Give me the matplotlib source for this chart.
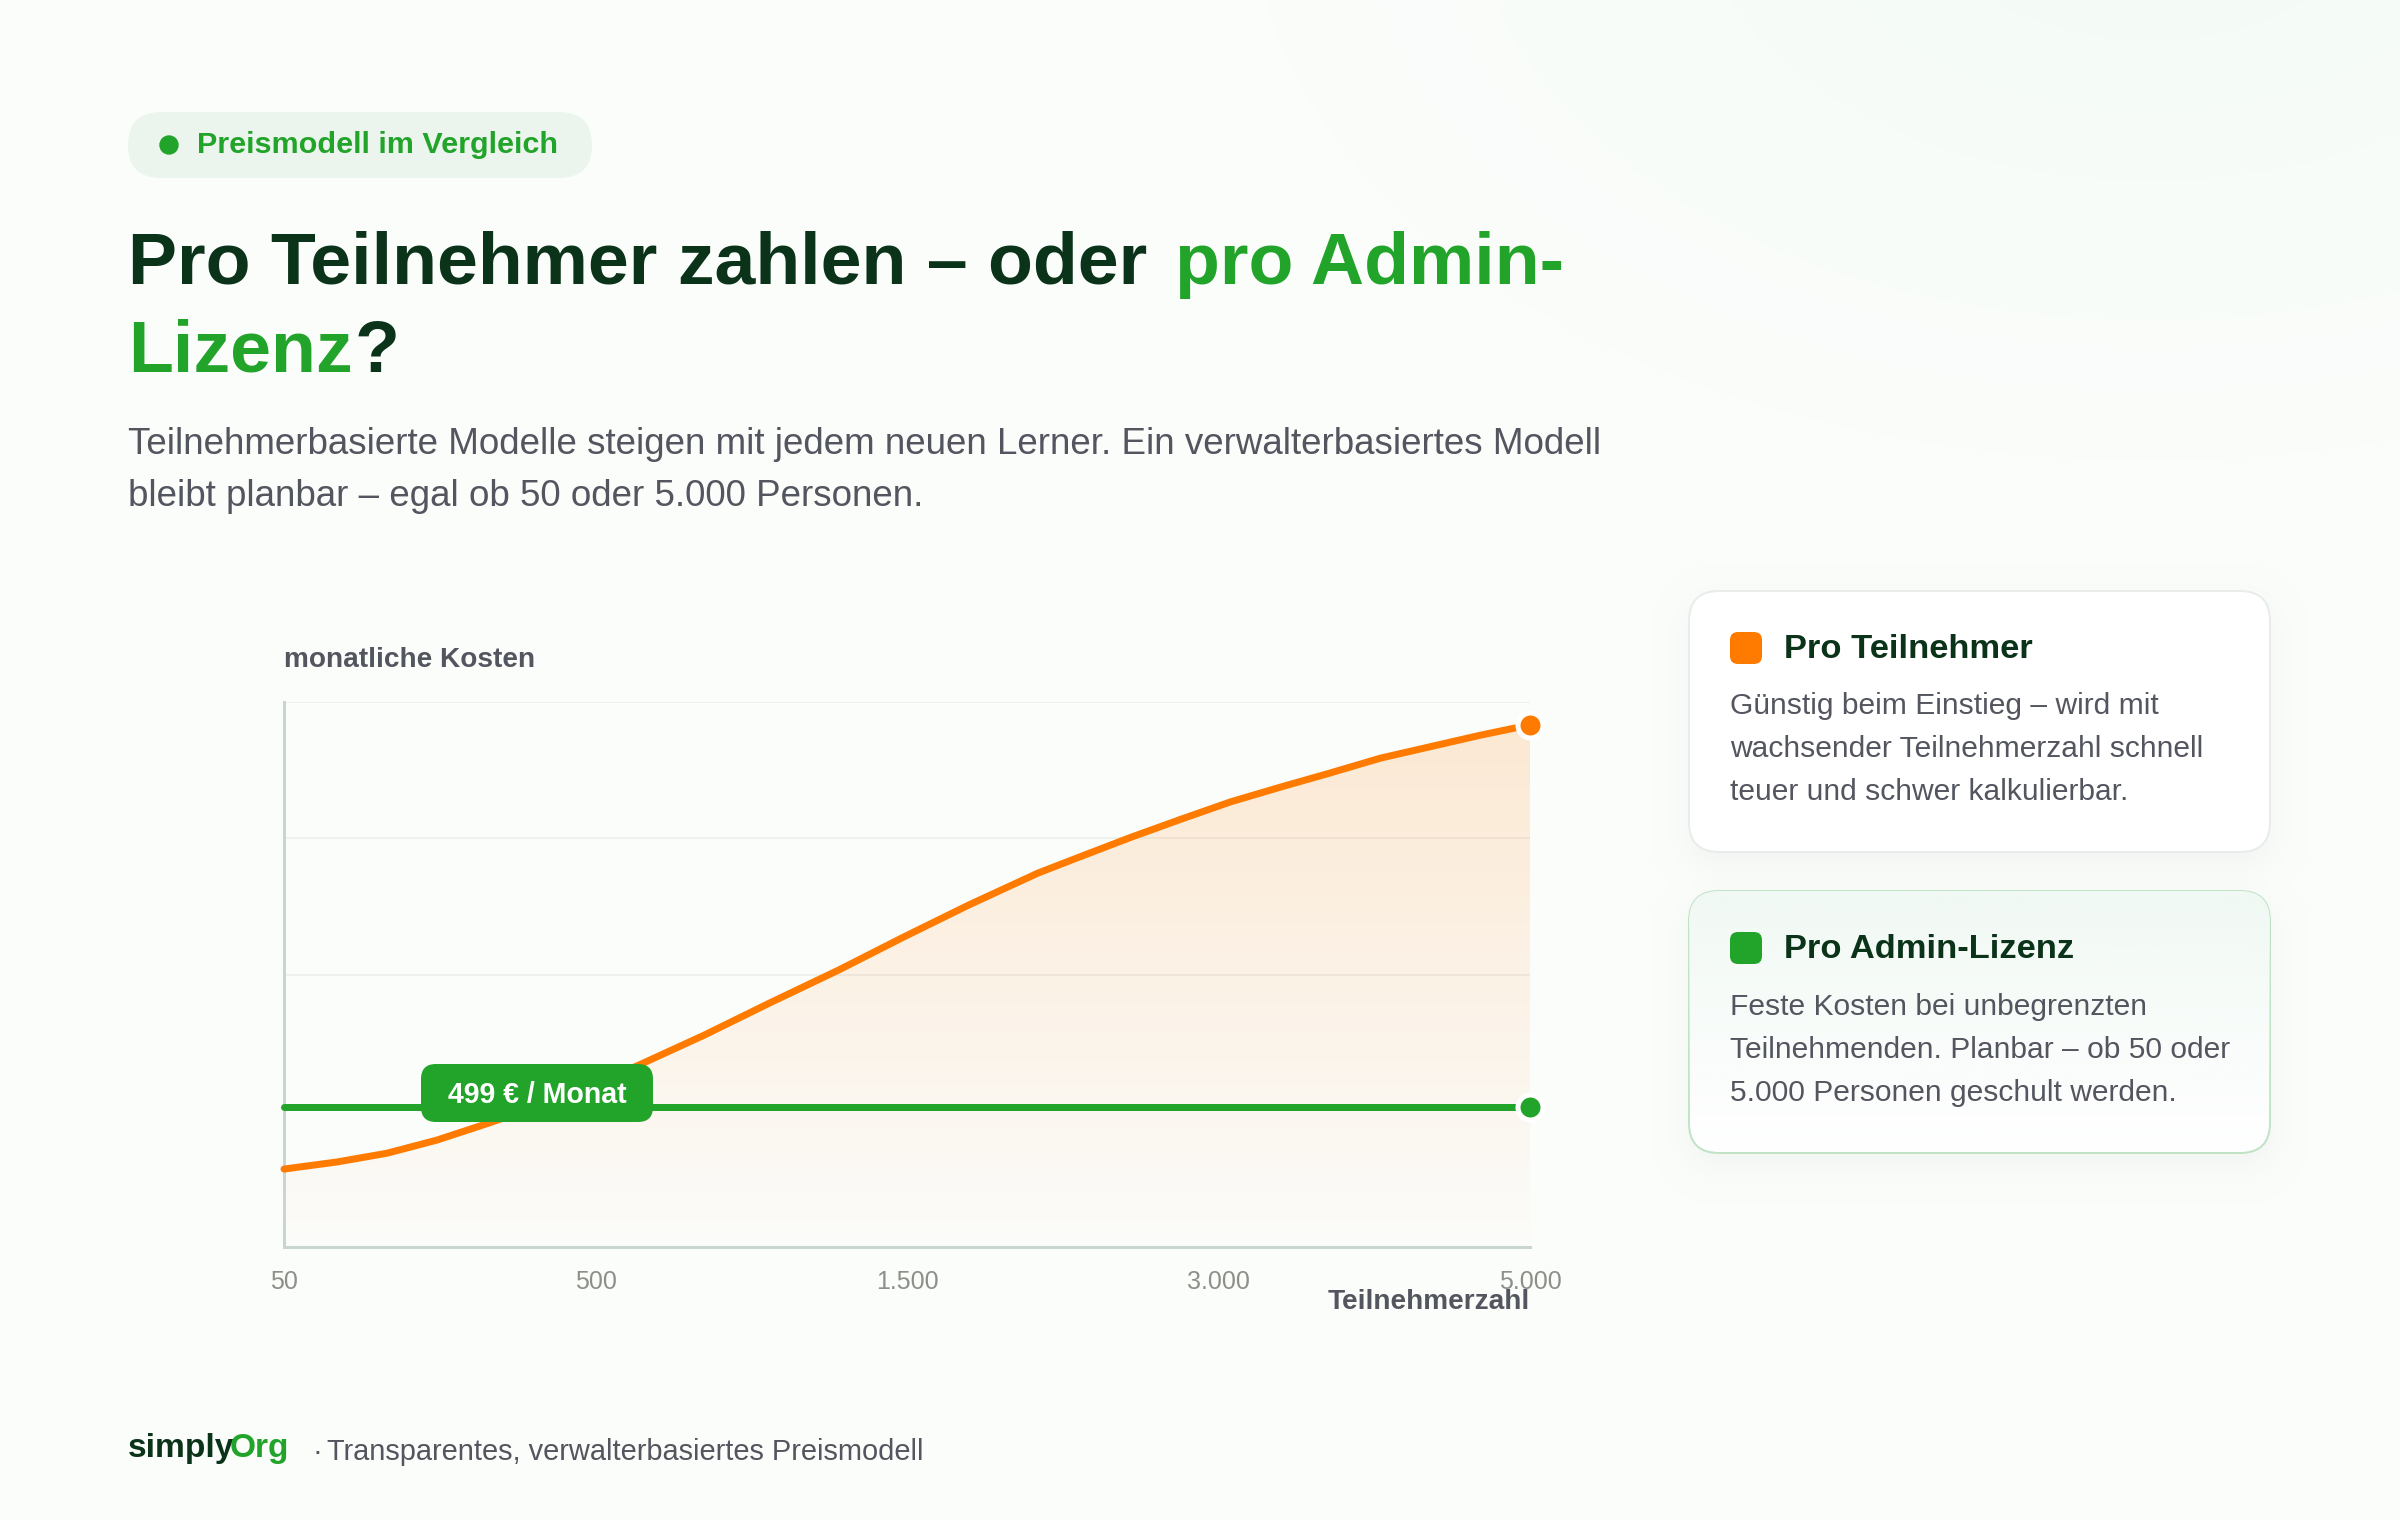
import numpy as np
import matplotlib
matplotlib.use('Agg')
import matplotlib.pyplot as plt
from matplotlib.patches import FancyBboxPatch, Polygon, Circle

plt.rcParams['font.family'] = ['Liberation Sans', 'DejaVu Sans']

# data, x is the position on the evenly spaced participant axis
tick_pos = [0, 1, 2, 3, 4]
tick_labels = ['50', '500', '1.500', '3.000', '5.000']
orange_x = [0.00, 0.17, 0.33, 0.49, 0.65, 0.89, 1.14, 1.35, 1.56, 1.78, 1.99,
            2.20, 2.42, 2.56, 2.72, 2.88, 3.04, 3.20, 3.36, 3.52, 3.68, 3.84, 4.00]
orange_y = [14.3, 15.6, 17.2, 19.6, 22.6, 27.3, 33.4, 38.9, 44.8, 50.8, 56.9,
            62.8, 68.6, 71.7, 75.2, 78.5, 81.7, 84.4, 87.0, 89.7, 91.8, 93.9, 95.8]
green_x = [0, 4]
green_y = [25.7, 25.7]
grid_y = [50, 75, 100]

W, H = 2400, 1520
DARK = '#0b3319'
GREEN = '#22a32a'
ORANGE = '#ff7b00'
GREY = '#53555f'


def pt(px):
    return px * 0.72


def box_dist(xx, yy, x0, y0, x1, y1, r):
    # signed distance to a rounded box
    qx = np.abs(xx - (x0 + x1) / 2) - (x1 - x0) / 2 + r
    qy = np.abs(yy - (y0 + y1) / 2) - (y1 - y0) / 2 + r
    return np.hypot(np.maximum(qx, 0), np.maximum(qy, 0)) + np.minimum(np.maximum(qx, qy), 0) - r


fig = plt.figure(figsize=(W / 100, H / 100), dpi=100)

# page background with the pale green glow and the card shadows
yy, xx = np.mgrid[0:H, 0:W]
bg = np.ones((H, W, 3)) * np.array([251, 253, 251]) / 255
glow = np.clip(1 - np.hypot((xx - 2150) / 900, (yy + 100) / 560), 0, 1)
bg = bg + glow[..., None] * (np.array([243, 251, 246]) / 255 - bg)
for top, bottom in [(591, 852), (891, 1153)]:
    d = box_dist(xx, yy, 1689, top + 12, 2270, bottom + 12, 30)
    shadow = 0.045 * np.clip(1 - (d + 20) / 60, 0, 1) ** 2
    bg = bg * (1 - shadow[..., None]) + shadow[..., None] * np.array([11, 51, 25]) / 255
ax_bg = fig.add_axes([0, 0, 1, 1], zorder=0)
ax_bg.imshow(bg, aspect='auto', extent=[0, W, H, 0])
ax_bg.axis('off')

# chart
ax = fig.add_axes([284 / W, (H - 1247) / H, 1246 / W, 545 / H], zorder=1)
ax.patch.set_visible(False)
grad = np.zeros((256, 2, 4))
grad[..., :3] = np.array([255, 123, 0]) / 255
grad[..., 3] = np.linspace(0.16, 0.008, 256)[:, None]
im = ax.imshow(grad, aspect='auto', extent=[0, 4, 0, max(orange_y)], zorder=2)
area = Polygon(list(zip(orange_x, orange_y)) + [(4, 0), (0, 0)], closed=True,
               transform=ax.transData, facecolor='none', edgecolor='none')
ax.add_patch(area)
im.set_clip_path(area)
for g in grid_y:
    ax.axhline(g, color='#edf2ee', linewidth=pt(2), zorder=1)
ax.plot(orange_x, orange_y, color=ORANGE, linewidth=pt(7), solid_capstyle='round',
        clip_on=False, zorder=4)
ax.plot(green_x, green_y, color=GREEN, linewidth=pt(7), solid_capstyle='round',
        clip_on=False, zorder=5)
ax.plot(orange_x[-1], orange_y[-1], 'o', color=ORANGE, markersize=pt(25), markeredgecolor='white',
        markeredgewidth=pt(5), clip_on=False, zorder=6)
ax.plot(green_x[-1], green_y[-1], 'o', color=GREEN, markersize=pt(25), markeredgecolor='white',
        markeredgewidth=pt(5), clip_on=False, zorder=6)
ax.set_xlim(0, 4)
ax.set_ylim(0, 100)
ax.set_yticks([])
ax.set_xticks(tick_pos)
ax.set_xticklabels(tick_labels, fontsize=pt(25), color='#8b9088')
ax.tick_params(axis='x', length=0, pad=pt(23))
for s in ['top', 'right']:
    ax.spines[s].set_visible(False)
for s in ['left', 'bottom']:
    ax.spines[s].set_color('#c9d6cd')
    ax.spines[s].set_linewidth(pt(3))

# everything around the chart is placed in page pixels
page = fig.add_axes([0, 0, 1, 1], zorder=2)
page.set_xlim(0, W)
page.set_ylim(H, 0)
page.axis('off')


def label(x, y, s, size, color, weight='normal', ha='left'):
    page.text(x, y, s, fontsize=pt(size), color=color, fontweight=weight, ha=ha, va='baseline')


def rounded(x0, y0, x1, y1, r, fc, ec='none', lw=0, z=3):
    p = FancyBboxPatch((x0 + r, y0 + r), x1 - x0 - 2 * r, y1 - y0 - 2 * r,
                       boxstyle='round,pad=%f,rounding_size=%f' % (r, r),
                       facecolor=fc, edgecolor=ec, linewidth=pt(lw), zorder=z)
    page.add_patch(p)
    return p


# pill
rounded(128, 112, 592, 178, 33, '#ebf5ee')
page.add_patch(Circle((169, 145), 9, color=GREEN, zorder=4))
page.text(197, 153, 'Preismodell im Vergleich', fontsize=pt(30.5), color=GREEN,
          fontweight='bold', va='baseline', zorder=4)

# heading
label(128, 284, 'Pro Teilnehmer zahlen \u2013 oder', 73.5, DARK, 'bold')
label(1175, 284, 'pro Admin-', 73.5, GREEN, 'bold')
label(128, 372, 'Lizenz', 73.5, GREEN, 'bold')
label(355, 372, '?', 73.5, DARK, 'bold')

# subtitle
label(128, 454, 'Teilnehmerbasierte Modelle steigen mit jedem neuen Lerner. Ein verwalterbasiertes Modell',
      36.7, GREY)
label(128, 506, 'bleibt planbar \u2013 egal ob 50 oder 5.000 Personen.', 36.7, GREY)

# axis titles
label(284, 667, 'monatliche Kosten', 28, GREY, 'bold')
label(1530, 1309, 'Teilnehmerzahl', 28, GREY, 'bold', ha='right')

# price badge
rounded(421, 1064, 653, 1122, 15, GREEN)
page.text(537, 1103, '499 \u20ac / Monat', fontsize=pt(28.5), color='white', fontweight='bold',
          ha='center', va='baseline', zorder=4)

# cards
card1 = rounded(1689, 591, 2270, 852, 30, 'white', '#e8ecea', 2)
card2 = rounded(1689, 891, 2270, 1153, 30, 'white', '#c0e3c6', 2)
tint = np.ones((256, 2, 4))
tint[..., :3] = np.array([241, 249, 244]) / 255
tint[..., 3] = np.linspace(1, 0, 256)[:, None]
im2 = page.imshow(tint, aspect='auto', extent=[1689, 2270, 1153, 891], zorder=3.1)
im2.set_clip_path(card2)
page.set_xlim(0, W)
page.set_ylim(H, 0)
rounded(1730, 632, 1762, 664, 8, ORANGE, z=4)
rounded(1730, 932, 1762, 964, 8, GREEN, z=4)


def card_text(x, y, s, size, color, weight='normal'):
    page.text(x, y, s, fontsize=pt(size), color=color, fontweight=weight, va='baseline', zorder=4)


card_text(1784, 658, 'Pro Teilnehmer', 34.5, DARK, 'bold')
card_text(1784, 958, 'Pro Admin-Lizenz', 34.5, DARK, 'bold')
lines1 = ['G\u00fcnstig beim Einstieg \u2013 wird mit', 'wachsender Teilnehmerzahl schnell',
          'teuer und schwer kalkulierbar.']
lines2 = ['Feste Kosten bei unbegrenzten', 'Teilnehmenden. Planbar \u2013 ob 50 oder',
          '5.000 Personen geschult werden.']
for s, y in zip(lines1, [714, 757, 800]):
    card_text(1730, y, s, 30, GREY)
for s, y in zip(lines2, [1015, 1058, 1101]):
    card_text(1730, y, s, 30, GREY)

# footer
label(128, 1457, 'simply', 33.5, DARK, 'bold')
label(230, 1457, 'Org', 33.5, GREEN, 'bold')
label(312, 1460, '\u00b7', 29, GREY)
label(327, 1460, 'Transparentes, verwalterbasiertes Preismodell', 29, GREY)

fig.savefig('out.png', dpi=100)
